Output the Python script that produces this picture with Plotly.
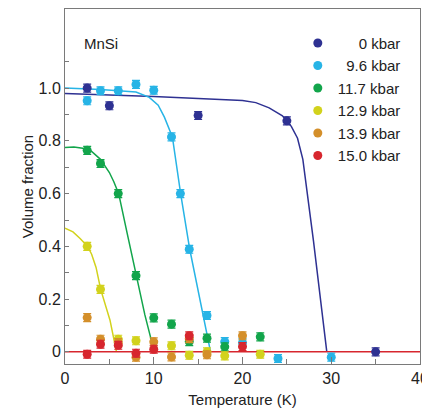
import plotly.graph_objects as go

FONT = "Liberation Sans, Arial, sans-serif"

labels = ["0 kbar", "9.6 kbar", "11.7 kbar", "12.9 kbar", "13.9 kbar", "15.0 kbar"]
legend_names = ["\u2007\u2007\u20080 kbar", "\u20079.6 kbar", "11.7 kbar", "12.9 kbar", "13.9 kbar", "15.0 kbar"]
colors = ["#2e3192", "#27b4e6", "#12a54b", "#d2d21c", "#d48f2a", "#d7262e"]

# measured points
t_0 = [2.5, 5, 15, 25, 35]
v_0 = [1.0, 0.933, 0.896, 0.876, 0.0]

t_96 = [2.5, 4, 6, 8, 10, 12, 13, 14, 16, 18, 20, 24, 30]
v_96 = [0.952, 0.99, 0.99, 1.014, 0.992, 0.815, 0.60, 0.389, 0.138, 0.039, 0.035, -0.025, -0.02]

t_117 = [2.5, 4, 6, 8, 10, 12, 14, 16, 18, 22]
v_117 = [0.764, 0.714, 0.60, 0.289, 0.129, 0.105, 0.039, 0.052, 0.019, 0.057]

t_129 = [2.5, 4, 6, 8, 12, 14, 16, 18, 22]
v_129 = [0.40, 0.237, 0.048, 0.042, 0.023, -0.013, 0.0, -0.015, -0.009]

t_139 = [2.5, 4, 6, 8, 10, 12, 14, 16, 20]
v_139 = [0.13, 0.048, 0.035, -0.02, 0.038, -0.019, 0.05, -0.011, 0.061]

t_150 = [2.5, 4, 6, 8, 10, 14, 20]
v_150 = [-0.009, 0.029, 0.025, -0.005, 0.01, 0.061, 0.02]

err = 0.015

# fitted curves
ct_0 = [0, 5, 10, 15, 20, 21.5, 23, 24.5, 25.5, 26.2, 26.8, 28, 29.5]
cv_0 = [0.98, 0.975, 0.968, 0.961, 0.953, 0.945, 0.925, 0.895, 0.855, 0.81, 0.73, 0.42, 0.0]

ct_96 = [0, 4, 8, 9.5, 10.5, 11.2, 12.1, 13.03, 14.05, 15.2, 16.4]
cv_96 = [1.0, 0.995, 0.985, 0.965, 0.935, 0.89, 0.815, 0.60, 0.39, 0.2, 0.0]

ct_117 = [0, 1, 2, 3, 4, 5, 5.5, 6.05, 7, 8.04, 9, 10.06]
cv_117 = [0.775, 0.777, 0.772, 0.76, 0.73, 0.68, 0.645, 0.60, 0.45, 0.29, 0.14, 0.0]

ct_129 = [0, 0.9, 1.7, 2.55, 3.0, 3.5, 4.02, 5.07, 5.8]
cv_129 = [0.469, 0.455, 0.43, 0.40, 0.37, 0.32, 0.237, 0.12, 0.0]

ct_150 = [0, 40]
cv_150 = [0, 0]

points = [(t_0, v_0), (t_96, v_96), (t_117, v_117), (t_129, v_129), (t_139, v_139), (t_150, v_150)]
curves = [(ct_0, cv_0, 0), (ct_96, cv_96, 1), (ct_117, cv_117, 2), (ct_129, cv_129, 3), (ct_150, cv_150, 5)]

fig = go.Figure()
for ct, cv, i in curves:
    fig.add_trace(go.Scatter(x=ct, y=cv, mode="lines", line=dict(color=colors[i], width=1.5),
                             showlegend=False, hoverinfo="skip"))

for i, (t, v) in enumerate(points):
    fig.add_trace(go.Scatter(
        x=t, y=v, mode="markers", name=legend_names[i],
        marker=dict(color=colors[i], size=9),
        error_y=dict(type="constant", value=err, color=colors[i], thickness=1.2, width=4),
    ))

fig.add_annotation(x=1.9, y=1.171, text="MnSi", showarrow=False, xanchor="left", yanchor="middle",
                   font=dict(family=FONT, size=15, color="#222"))

axis_common = dict(showline=True, linecolor="#7a7a7a", linewidth=1, mirror=True,
                   ticks="inside", tickcolor="#7a7a7a", showgrid=False, zeroline=False,
                   automargin=False,
                   tickfont=dict(family=FONT, size=16, color="#222"))

fig.update_xaxes(range=[0, 40], tickvals=[0, 10, 20, 30, 40], ticklen=7,
                 minor=dict(tickvals=[5, 15, 25, 35], ticklen=5, ticks="inside", tickcolor="#7a7a7a"),
                 title=dict(text="Temperature (K)", font=dict(family=FONT, size=15, color="#222"), standoff=8),
                 **axis_common)
fig.update_yaxes(range=[-0.046, 1.30], tickvals=[0, 0.2, 0.4, 0.6, 0.8, 1.0],
                 ticktext=["0", "0.2", "0.4", "0.6", "0.8", "1.0"], ticklen=4,
                 minor=dict(tickvals=[0.1, 0.3, 0.5, 0.7, 0.9, 1.1], ticklen=4, ticks="inside", tickcolor="#7a7a7a"),
                 title=dict(text="Volume fraction", font=dict(family=FONT, size=15, color="#222"), standoff=1),
                 **axis_common)

fig.update_layout(
    width=422, height=405,
    margin=dict(l=57, r=10, t=1, b=49),
    paper_bgcolor="white", plot_bgcolor="white",
    font=dict(family=FONT, color="#222"),
    legend=dict(x=0.96, xanchor="right", y=0.95, yanchor="top", bgcolor="rgba(0,0,0,0)",
                font=dict(family=FONT, size=15, color="#222"), itemwidth=30, tracegroupgap=0),
    showlegend=True,
)

fig.write_html("out.html")
